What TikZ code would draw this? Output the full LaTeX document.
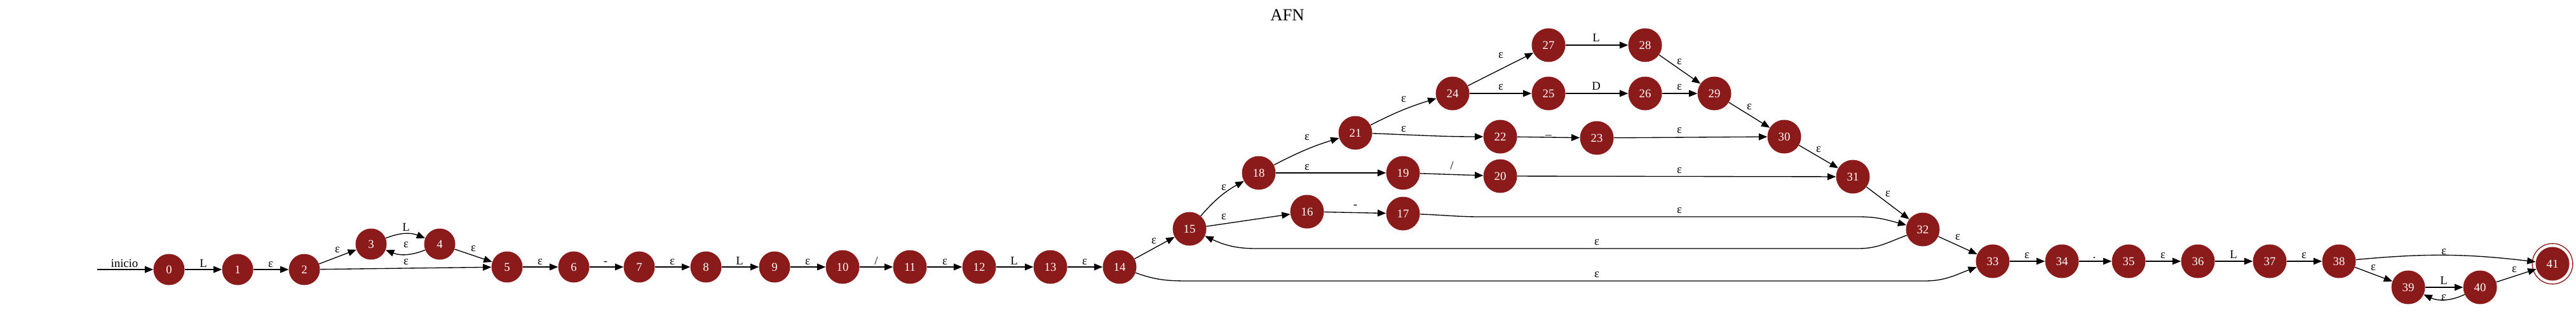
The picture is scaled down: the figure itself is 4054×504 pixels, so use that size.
\documentclass[tikz,border=0pt]{standalone}
\usepackage{fontspec}
\setmainfont{Liberation Serif}
\usetikzlibrary{arrows.meta}
\definecolor{afnred}{HTML}{8B1A1A}
\begin{document}
\begin{tikzpicture}[x=0.75pt,y=-0.75pt,
  st/.style={circle,fill=afnred,text=white,inner sep=0pt,minimum size=36.75pt,font=\fontsize{14}{16}\selectfont},
  stt/.style={st,minimum size=39.75pt},
  e/.style={draw=black,line width=1pt,-{Triangle[length=10pt,width=8pt]}},
  lab/.style={anchor=base,inner sep=0pt,font=\fontsize{14}{16}\selectfont}]
\useasboundingbox (0,0) rectangle (4054,504);
\node[font=\fontsize{20}{24}\selectfont] (title) at (2026,24) {AFN};
% states
\node[st] (n0) at (266,424) {0};
\node[st] (n1) at (374,424) {1};
\node[st] (n2) at (479,424) {2};
\node[st] (n3) at (584,384) {3};
\node[st] (n4) at (692,384) {4};
\node[st] (n5) at (798,420) {5};
\node[st] (n6) at (903,420) {6};
\node[st] (n7) at (1006,420) {7};
\node[st] (n8) at (1111,420) {8};
\node[st] (n9) at (1219,420) {9};
\node[stt] (n10) at (1326,420) {10};
\node[stt] (n11) at (1432,420) {11};
\node[stt] (n12) at (1541,420) {12};
\node[stt] (n13) at (1653,420) {13};
\node[stt] (n14) at (1762,420) {14};
\node[stt] (n15) at (1872,360) {15};
\node[stt] (n16) at (2057,333) {16};
\node[stt] (n17) at (2208,336) {17};
\node[stt] (n18) at (1981,272) {18};
\node[stt] (n19) at (2208,272) {19};
\node[stt] (n20) at (2361,277) {20};
\node[stt] (n21) at (2133,209) {21};
\node[stt] (n22) at (2361,215) {22};
\node[stt] (n23) at (2513,217) {23};
\node[stt] (n24) at (2286,147) {24};
\node[stt] (n25) at (2437,147) {25};
\node[stt] (n26) at (2589,147) {26};
\node[stt] (n27) at (2437,71) {27};
\node[stt] (n28) at (2589,71) {28};
\node[stt] (n29) at (2698,147) {29};
\node[stt] (n30) at (2808,215) {30};
\node[stt] (n31) at (2916,278) {31};
\node[stt] (n32) at (3026,361) {32};
\node[stt] (n33) at (3136,411) {33};
\node[stt] (n34) at (3245,411) {34};
\node[stt] (n35) at (3350,411) {35};
\node[stt] (n36) at (3459,411) {36};
\node[stt] (n37) at (3572,411) {37};
\node[stt] (n38) at (3681,411) {38};
\node[stt] (n39) at (3790,452) {39};
\node[stt] (n40) at (3903,452) {40};
\node[stt] (n41) at (4017,415) {41};
\draw[afnred,line width=1pt] (n41.center) circle[radius=23.9pt];
% waypoints
\coordinate (start) at (153,424);
\coordinate (c1) at (2330,341);
\coordinate (c2) at (2925,341);
\coordinate (c3) at (2925,391);
\coordinate (c4) at (1976,391);
\coordinate (c5) at (1869,442);
\coordinate (c6) at (3029,442);
% edges
\draw[e] (start) -- (n0) node[lab] at (196,420) {inicio};
\draw[e] (n0) -- (n1) node[lab] at (320,420) {L};
\draw[e] (n1) -- (n2) node[lab] at (426,420) {ε};
\draw[e] (n2) -- (n3) node[lab] at (531,397) {ε};
\draw[e] (n3) to[bend left=22] (n4) node[lab] at (639,363) {L};
\draw[e] (n4) to[bend left=22] (n3) node[lab] at (639,389) {ε};
\draw[e] (n2) -- (n5) node[lab] at (639,416) {ε};
\draw[e] (n4) -- (n5) node[lab] at (745,395) {ε};
\draw[e] (n5) -- (n6) node[lab] at (850,416) {ε};
\draw[e] (n6) -- (n7) node[lab] at (953,416) {-};
\draw[e] (n7) -- (n8) node[lab] at (1058,416) {ε};
\draw[e] (n8) -- (n9) node[lab] at (1164,416) {L};
\draw[e] (n9) -- (n10) node[lab] at (1271,416) {ε};
\draw[e] (n10) -- (n11) node[lab] at (1379,416) {/};
\draw[e] (n11) -- (n12) node[lab] at (1487,416) {ε};
\draw[e] (n12) -- (n13) node[lab] at (1596,416) {L};
\draw[e] (n13) -- (n14) node[lab] at (1707,416) {ε};
\draw[e] (n14) -- (n15) node[lab] at (1816,383) {ε};
\draw[e] (n15) to[bend left=10] (n18) node[lab] at (1926,299) {ε};
\draw[e] (n15) -- (n16) node[lab] at (1926,345) {ε};
\draw[e] (n16) -- (n17) node[lab] at (2133,327) {-};
\draw[e] (n18) to[bend left=5] (n21) node[lab] at (2057,220) {ε};
\draw[e] (n18) -- (n19) node[lab] at (2057,267) {ε};
\draw[e] (n19) -- (n20) node[lab] at (2285,266) {/};
\draw[e] (n21) to[bend left=5] (n24) node[lab] at (2209,160) {ε};
\draw[e] (n21) to[out=-2,in=180] (n22) node[lab] at (2209,207) {ε};
\draw[e] (n24) -- (n27) node[lab] at (2362,91) {ε};
\draw[e] (n24) -- (n25) node[lab] at (2362,141) {ε};
\draw[e] (n27) -- (n28) node[lab] at (2512,65) {L};
\draw[e] (n25) -- (n26) node[lab] at (2512,141) {D};
\draw[e] (n28) -- (n29) node[lab] at (2643,101) {ε};
\draw[e] (n26) -- (n29) node[lab] at (2643,141) {ε};
\draw[e] (n29) -- (n30) node[lab] at (2753,172) {ε};
\draw[e] (n22) -- (n23) node[lab] at (2437,211) {\_};
\draw[e] (n23) -- (n30) node[lab] at (2643,209) {ε};
\draw[e] (n30) -- (n31) node[lab] at (2862,239) {ε};
\draw[e] (n20) -- (n31) node[lab] at (2643,272) {ε};
\draw[e] (n31) -- (n32) node[lab] at (2971,309) {ε};
\draw[e] (n17) to[out=-2,in=180] (c1) -- (c2) to[out=0,in=165] (n32) node[lab] at (2643,335) {ε};
\draw[e] (n32) to[out=200,in=0] (c3) -- (c4) to[out=180,in=-25] (n15) node[lab] at (2513,385) {ε};
\draw[e] (n14) to[out=-20,in=180] (c5) -- (c6) to[out=0,in=200] (n33) node[lab] at (2513,436) {ε};
\draw[e] (n32) -- (n33) node[lab] at (3081,377) {ε};
\draw[e] (n33) -- (n34) node[lab] at (3190,406) {ε};
\draw[e] (n34) -- (n35) node[lab] at (3296,406) {.};
\draw[e] (n35) -- (n36) node[lab] at (3404,406) {ε};
\draw[e] (n36) -- (n37) node[lab] at (3515,406) {L};
\draw[e] (n37) -- (n38) node[lab] at (3626,406) {ε};
\draw[e] (n38) to[bend left=6] (n41) node[lab] at (3846,400) {ε};
\draw[e] (n38) -- (n39) node[lab] at (3735,425) {ε};
\draw[e] (n39) -- (n40) node[lab] at (3846,447) {L};
\draw[e] (n40) to[bend left=25] (n39) node[lab] at (3846,472) {ε};
\draw[e] (n40) -- (n41) node[lab] at (3957,428) {ε};
\end{tikzpicture}
\end{document}
